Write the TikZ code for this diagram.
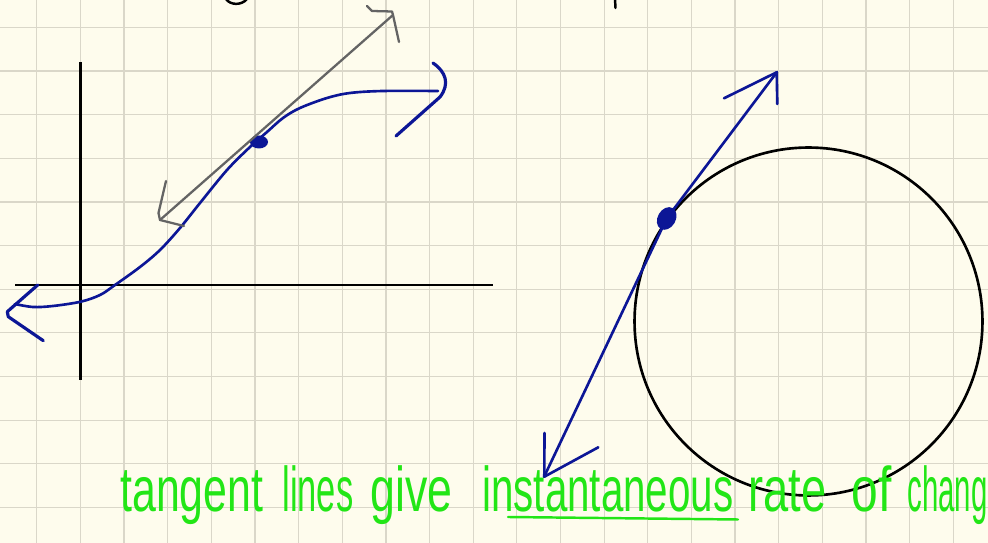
\documentclass[tikz,border=0pt]{standalone}
\usepackage{fontspec}
\setmainfont{Liberation Sans}
\usepackage{graphicx}
\definecolor{paper}{RGB}{254,252,237}
\definecolor{gridline}{RGB}{218,215,201}
\definecolor{penblue}{RGB}{12,22,150}
\definecolor{pengray}{RGB}{100,100,100}
\definecolor{pengreen}{RGB}{34,230,22}
\newcommand{\squeeze}[2]{\resizebox{#1}{\height}{#2}}
\tikzset{
  gridrule/.style={draw=gridline,line width=0.7pt},
  axis/.style    ={draw=black,line width=1.7pt},
  curve/.style   ={draw=penblue,line width=1.5pt,line cap=round,line join=round},
  tanline/.style ={draw=pengray,line width=1.3pt,line cap=round,line join=round},
  wheel/.style   ={circle,draw=black,line width=1.5pt,minimum size=6.96cm,inner sep=0pt},
  hand/.style    ={text=pengreen,font=\fontsize{36}{40}\selectfont,anchor=base west,inner sep=0pt}
}

\begin{document}
\begin{tikzpicture}[x=0.02cm,y=-0.02cm]
  \clip (0,0) rectangle (988,543);
  \fill[paper] (0,0) rectangle (988,543);
  % Grid
  \foreach \gx in {0,...,21} \draw[gridrule] ({36.7+43.65*\gx},0) -- ++(0,543);
  \foreach \gy in {0,...,11} \draw[gridrule] (0,{27.3+43.65*\gy}) -- ++(988,0);

  % Ends of the cut-off writing above
  \draw[black,line width=1.4pt,line cap=round] (226,-1) .. controls (230,5) and (241,6) .. (247,-1);
  \draw[black,line width=1.4pt,line cap=round] (615,-1) -- (615.5,8);

  % Axes
  \draw[axis] (80.5,62) -- (80.5,380);
  \draw[axis] (15,285) -- (493,285);

  % Curve
  \draw[curve] plot[smooth,tension=0.55] coordinates {(15,304) (33,307) (53,306) (80.7,301.7)
    (100,295) (115,285) (140,267) (160,250) (180,228) (200,203) (227,170) (250,147)
    (267,132) (283,118) (300,108) (327,98) (350,93) (383,91) (438,91)};
  \draw[curve,line width=1.8pt] (37.7,285) -- (7.3,311.7) -- (8.3,316.7) -- (43.3,340.7);
  \draw[curve,line width=1.8pt] (433,63) .. controls (446,72) and (450,84) .. (440,97) -- (396,136);
  \fill[penblue] (259,142) ellipse [x radius=9,y radius=6.5];

  % Tangent on the curve
  \draw[tanline] (160,220) -- (393,15);
  \draw[tanline] (166,181) -- (158.5,213) -- (160,220) -- (184,226);
  \draw[tanline] (367,6) -- (372,11) -- (392,11.5) -- (393,15) -- (399,42);

  % Circle and its tangent
  \node (circ) [wheel] at (808.5,321.5) {};
  \coordinate (touch) at (circ.144);
  \draw[curve] (544,477) -- (touch) -- (777,72);
  \draw[curve] (544.5,433) -- (544.3,476.7) -- (598.3,447.3);
  \draw[curve] (724,98.3) -- (776.7,72.3) -- (777.3,104);
  \fill[penblue,rotate around={-30:(touch)}] (touch) ellipse [x radius=9,y radius=12];

  % Note
  \node (tangent) [hand] at (120,512) {\squeeze{2.86cm}{tangent}};
  \node (lines)   [hand] at (282,512) {\squeeze{1.42cm}{lines}};
  \node (give)    [hand] at (370,512) {\squeeze{1.64cm}{give}};
  \node (instant) [hand] at (482,512) {\squeeze{5.02cm}{instantaneous}};
  \node (rate)    [hand] at (748,512) {\squeeze{1.56cm}{rate}};
  \node (of)      [hand] at (851,512) {\squeeze{0.80cm}{of}};
  \node (chang)   [hand] at (907,512) {\squeeze{1.60cm}{chang}};
  \draw[pengreen,line width=1.4pt,line cap=round] (508,517) -- (738,519.5);
\end{tikzpicture}
\end{document}
